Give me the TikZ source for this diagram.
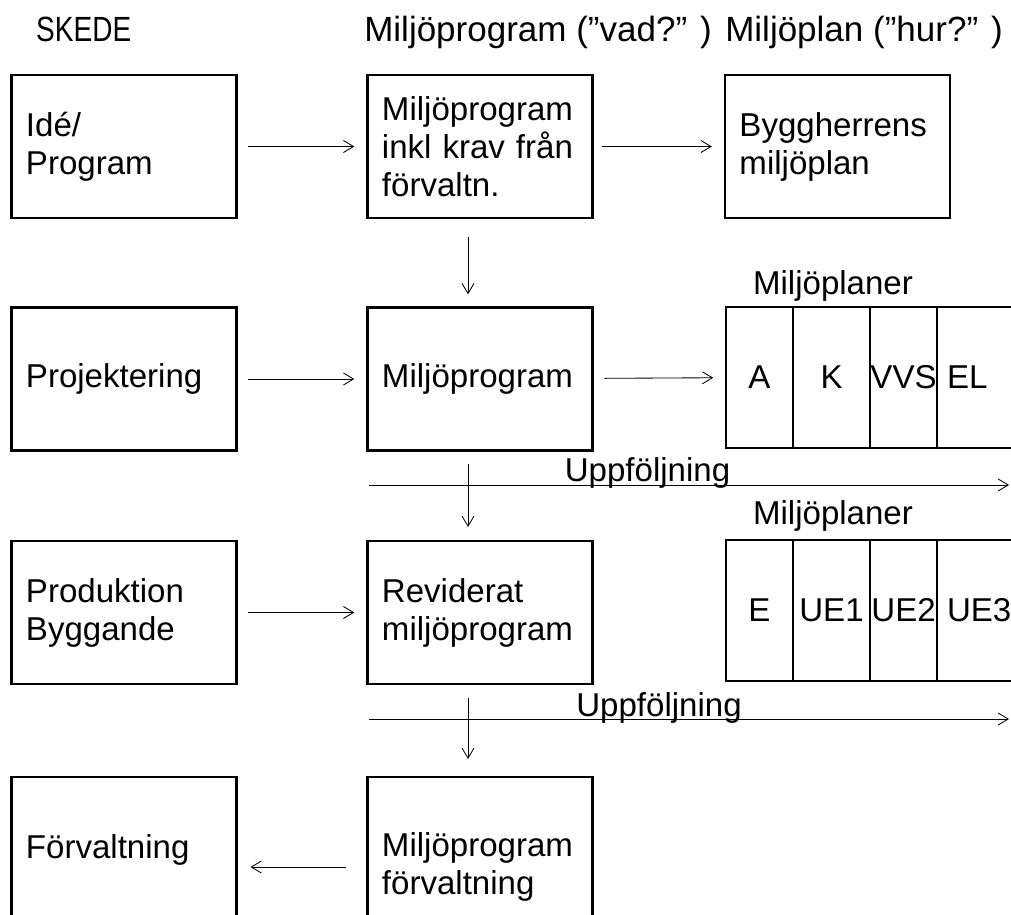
\documentclass[tikz,border=0pt]{standalone}
\usepackage{fontspec}
\setmainfont{Liberation Sans}
\usetikzlibrary{positioning,arrows.meta}

\tikzset{
  box/.style={draw, line width=1.7pt, minimum width=5.625cm, minimum height=3.575cm,
    text width=4.9cm, inner xsep=0.35cm, align=left, font=\fontsize{23.5}{27}\selectfont},
  cell/.style={draw, line width=1.7pt, outer sep=0pt, inner sep=0pt, minimum height=3.525cm,
    font=\fontsize{23.5}{27}\selectfont},
  lastcell/.style={cell, minimum width=2.325cm, text width=1.825cm, inner xsep=0.25cm, align=left},
  txt/.style={font=\fontsize{23.5}{27}\selectfont, inner sep=0pt},
  head/.style={font=\fontsize{24.9}{26}\selectfont, inner sep=0pt, anchor=base west},
  arr/.style={line width=0.6pt, -{Straight Barb[length=0.25cm,width=0.3cm]}},
}

\begin{document}
\begin{tikzpicture}[x=0.025cm, y=-0.025cm]

    \useasboundingbox (0,0) rectangle (1011,914) ;

    % define coordinates
    \coordinate (U1s) at (369,485) ;
    \coordinate (U1e) at (1009,485) ;
    \coordinate (U2s) at (369,719) ;
    \coordinate (U2e) at (1009,719) ;

    % headings
    \node[head, xscale=0.8, transform shape] (skede) at (36,41) {SKEDE};
    \node[head] (h_prog) at (364,41) {Miljöprogram (”vad?” )};
    \node[head] (h_plan) at (725,41) {Miljöplan (”hur?” )};

    % row 1
    \node[box] (idea) at (124,146.5) {Idé/\\Program};
    \node[box] (prog) at (480,146.5) {Miljöprogram\\inkl krav från\\förvaltn.};
    \node[box] (bygg) at (837.5,146.5) {Byggherrens\\miljöplan};

    % row 2
    \node[box] (proj) at (124,379) {Projektering};
    \node[box] (mprog) at (480,379) {Miljöprogram};
    \node[txt, anchor=base] (mp_1) at (833,294) {Miljöplaner};
    \node[cell, minimum width=1.675cm] (A) at (759.5,377.5) {A};
    \node[cell, minimum width=1.925cm, right=0pt of A] (K) {K};
    \node[cell, minimum width=1.675cm, right=0pt of K] (VVS) {VVS};
    \node[lastcell, right=0pt of VVS] (EL) {EL};

    % row 3
    \node[box] (prod) at (124,612.5) {Produktion\\Byggande};
    \node[box] (rev) at (480,612.5) {Reviderat\\miljöprogram};
    \node[txt, anchor=base] (mp_2) at (833,524) {Miljöplaner};
    \node[cell, minimum width=1.675cm] (E) at (759.5,610.5) {E};
    \node[cell, minimum width=1.925cm, right=0pt of E] (UE1) {UE1};
    \node[cell, minimum width=1.675cm, right=0pt of UE1] (UE2) {UE2};
    \node[lastcell, right=0pt of UE2] (UE3) {UE3};

    % row 4
    \node[box, minimum height=3.65cm] (forv) at (124,850) {Förvaltning};
    \node[box, minimum height=4.5cm] (fprog) at (480,867) {Miljöprogram\\förvaltning};

    % arrows
    \draw[arr, shorten <=0.25cm, shorten >=0.3cm] (idea) -- (prog) ;
    \draw[arr, shorten <=0.2cm, shorten >=0.3cm] (prog) -- (bygg) ;
    \draw[arr, shorten <=0.25cm, shorten >=0.3cm] (proj) -- (mprog) ;
    \draw[arr, shorten <=0.27cm, shorten >=0.32cm] (mprog) -- (A) ;
    \draw[arr, shorten <=0.25cm, shorten >=0.3cm] (prod) -- (rev) ;
    \draw[arr, shorten <=0.5cm, shorten >=0.32cm] (fprog.west) -- (fprog.west -| forv.east) ;

    \draw[arr, shorten <=0.45cm, shorten >=0.3cm] ([xshift=-0.3cm]prog.south) -- ([xshift=-0.3cm]mprog.north) ;
    \draw[arr, shorten <=0.31cm, shorten >=0.32cm] ([xshift=-0.3cm]mprog.south) -- ([xshift=-0.3cm]rev.north) ;
    \draw[arr, shorten <=0.32cm, shorten >=0.42cm] ([xshift=-0.3cm]rev.south) -- ([xshift=-0.3cm]fprog.north) ;

    % uppfoljning
    \draw[arr] (U1s) -- (U1e) ;
    \node[txt, anchor=base] (upp_1) at (647.5,481) {Uppföljning};
    \draw[arr] (U2s) -- (U2e) ;
    \node[txt, anchor=base] (upp_2) at (659,716) {Uppföljning};

\end{tikzpicture}
\end{document}
